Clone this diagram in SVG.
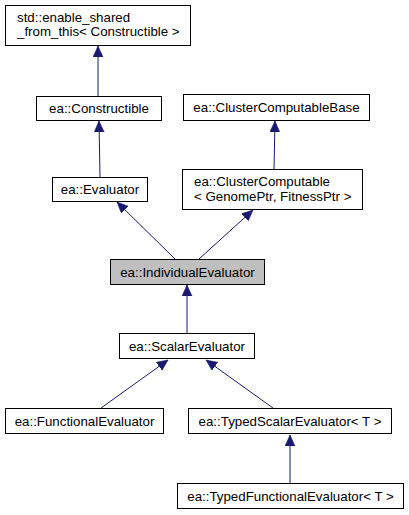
<svg xmlns="http://www.w3.org/2000/svg" width="409" height="515" viewBox="0 0 409 515">
<style>
.box{fill:#fff;stroke:#000;stroke-width:1}
.sel{fill:#bfbfbf;stroke:#000;stroke-width:1}
text{font-family:"Liberation Sans",Arial,sans-serif;font-size:13.3px;fill:#000}
.c{text-anchor:middle}
.edge{stroke:#191970;stroke-width:1;fill:none;marker-end:url(#arr)}
</style>
<defs>
<marker id="arr" markerUnits="userSpaceOnUse" markerWidth="12" markerHeight="12" refX="11" refY="5" orient="auto">
<path d="M0,0 L11,5 L0,10 z" fill="#191970" stroke="#191970" stroke-width="0.5"/>
</marker>
</defs>
<rect width="409" height="515" fill="#fff"/>
<g id="connectors">
<path class="edge" d="M98,96 L98,46"/>
<path class="edge" d="M100,177 L99,121"/>
<path class="edge" d="M274,169 L275,121"/>
<path class="edge" d="M175,259 L117,202"/>
<path class="edge" d="M199,259 L253,210"/>
<path class="edge" d="M187,333 L187,285"/>
<path class="edge" d="M101,408 L168,360"/>
<path class="edge" d="M273,408 L206,360"/>
<path class="edge" d="M290,483 L290,435"/>
</g>
<g id="enable_shared">
<rect class="box" x="5.5" y="5.5" width="185" height="40"/>
<text x="17" y="21.5">std::enable_shared</text>
<text x="17" y="36">_from_this&lt; Constructible &gt;</text>
</g>
<g id="constructible">
<rect class="box" x="36.5" y="96.5" width="125" height="24"/>
<text class="c" x="99" y="113">ea::Constructible</text>
</g>
<g id="ccbase">
<rect class="box" x="183.5" y="94.5" width="186" height="26"/>
<text class="c" x="276.5" y="112">ea::ClusterComputableBase</text>
</g>
<g id="evaluator">
<rect class="box" x="52.5" y="177.5" width="95" height="24"/>
<text class="c" x="100" y="194">ea::Evaluator</text>
</g>
<g id="cc">
<rect class="box" x="182.5" y="169.5" width="180" height="40"/>
<text x="194" y="186">ea::ClusterComputable</text>
<text x="194" y="200.5">&lt; GenomePtr, FitnessPtr &gt;</text>
</g>
<g id="individual">
<rect class="sel" x="110.5" y="259.5" width="154" height="25"/>
<text class="c" x="187.5" y="276.5">ea::IndividualEvaluator</text>
</g>
<g id="scalar">
<rect class="box" x="119.5" y="333.5" width="135" height="25"/>
<text class="c" x="187" y="350.5">ea::ScalarEvaluator</text>
</g>
<g id="functional">
<rect class="box" x="5.5" y="408.5" width="158" height="25"/>
<text class="c" x="84.5" y="425.5">ea::FunctionalEvaluator</text>
</g>
<g id="typedscalar">
<rect class="box" x="188.5" y="408.5" width="203" height="25"/>
<text class="c" x="290" y="425.5">ea::TypedScalarEvaluator&lt; T &gt;</text>
</g>
<g id="typedfunctional">
<rect class="box" x="177.5" y="483.5" width="226" height="25"/>
<text class="c" x="290.5" y="500.5">ea::TypedFunctionalEvaluator&lt; T &gt;</text>
</g>
</svg>
